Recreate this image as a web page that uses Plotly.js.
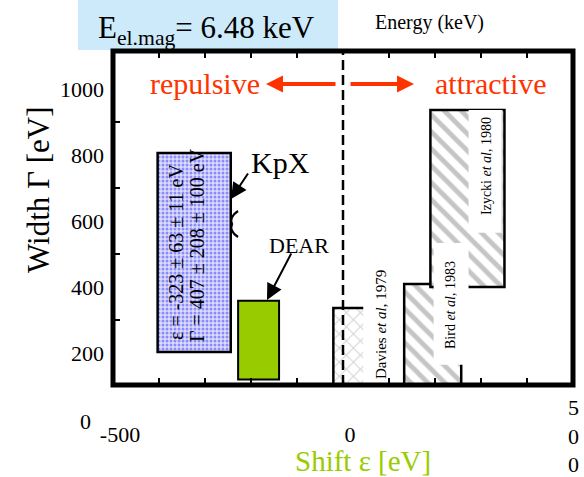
<!DOCTYPE html>
<html>
<head>
<meta charset="utf-8">
<script src="https://cdn.plot.ly/plotly-3.0.1.min.js"></script>
<style>
  html, body { margin: 0; padding: 0; background: #fff; }
  #chart { width: 584px; height: 477px; }
</style>
</head>
<body>
<div id="chart"></div>
<script>
// Allowed (shift, width) regions of the kaonic-hydrogen 1s level, in eV
const experiments = ['KpX', 'DEAR', 'Davies et al, 1979', 'Bird et al, 1983', 'Izycki et al, 1980'];
const shiftLow  = [-403, -228, -21, 133, 190];
const shiftHigh = [-244, -139,  60, 257, 351];
const widthLow  = [ 203,  120,   0,   0, 400];
const widthHigh = [ 806,  358, 336, 409, 936];

// Axis ticks and labels
const xLabelVals = [-500, 0];
const xLabelText = ['-500', '0'];
const xTickVals = [-400, -300, -200, -100, 100, 200, 300, 400];
const yLabelVals = [200, 400, 600, 800, 1000];
const yLabelText = ['200', '400', '600', '800', '1000'];
const yTickVals = [300, 500, 700, 900];

const SERIF = 'Liberation Serif, Times New Roman, serif';
const BLACK = '#000000';
const RED = '#ff3300';
const GREEN = '#99cc00';

// Fill style of each region
const fills = [
  { color: '#dcdcff', shape: '.',  fg: '#3c3cf0', size: 4,  solidity: 0.45, lw: 2.5 },
  { color: GREEN,     shape: '',   fg: GREEN,     size: 8,  solidity: 0.3,  lw: 2 },
  { color: '#ffffff', shape: 'x',  fg: '#a8a8a8', size: 10, solidity: 0.2,  lw: 2.5 },
  { color: '#ffffff', shape: '\\', fg: '#8c8c8c', size: 12, solidity: 0.4,  lw: 2.5 },
  { color: '#ffffff', shape: '\\', fg: '#8c8c8c', size: 12, solidity: 0.4,  lw: 2.5 }
];

// Figure geometry (fixed-size slide figure)
const W = 584, H = 477;
const M = { l: 113, r: 11, t: 51, b: 92 };
const PW = W - M.l - M.r, PH = H - M.t - M.b;
const px = p => (p - M.l) / PW;          // layout pixel -> paper x
const py = p => (H - M.b - p) / PH;      // layout pixel -> paper y
const TICK = 7;                          // inward tick length from the frame centre line, px

// One bar per experiment, spanning its shift range and width range
const traces = experiments.map((name, i) => ({
  type: 'bar',
  name: name,
  x: [(shiftLow[i] + shiftHigh[i]) / 2],
  width: [shiftHigh[i] - shiftLow[i]],
  base: [widthLow[i]],
  y: [widthHigh[i] - widthLow[i]],
  hoverinfo: 'name',
  marker: {
    color: fills[i].color,
    line: { color: BLACK, width: fills[i].lw },
    pattern: {
      shape: fills[i].shape,
      fgcolor: fills[i].fg,
      size: fills[i].size,
      solidity: fills[i].solidity,
      fillmode: 'overlay'
    }
  },
  showlegend: false
}));

const tickFont = { family: SERIF, size: 22, color: BLACK };

// Inward tick marks: bottom and top edges every 100 eV, left edge between the labels
const tickShapes = [];
xTickVals.forEach(v => {
  tickShapes.push({ type: 'path', xref: 'paper', yref: 'paper',
    path: `M ${(v + 500) / 1000},0 L ${(v + 500) / 1000},${TICK / PH}`,
    line: { color: BLACK, width: 2 }, layer: 'above' });
  tickShapes.push({ type: 'path', xref: 'paper', yref: 'paper',
    path: `M ${(v + 500) / 1000},1 L ${(v + 500) / 1000},${1 - TICK / PH}`,
    line: { color: BLACK, width: 2 }, layer: 'above' });
});
yTickVals.forEach(v => {
  tickShapes.push({ type: 'line', xref: 'paper', yref: 'y', x0: 0, x1: TICK / PW, y0: v, y1: v,
    line: { color: BLACK, width: 2 }, layer: 'above' });
});

const layout = {
  width: W, height: H,
  margin: M,
  paper_bgcolor: '#ffffff',
  plot_bgcolor: '#ffffff',
  barmode: 'overlay',
  bargap: 0,
  showlegend: false,
  font: { family: SERIF, color: BLACK },
  xaxis: {
    range: [-500, 500],
    tickmode: 'array', tickvals: xLabelVals, ticktext: xLabelText,
    ticks: '', showgrid: false, zeroline: false, showline: false,
    tickfont: tickFont,
    ticklabelstandoff: 34, ticklabelshift: 7
  },
  yaxis: {
    range: [103, 1115],
    tickmode: 'array', tickvals: yLabelVals, ticktext: yLabelText,
    ticks: '', showgrid: false, zeroline: false, showline: false,
    tickfont: tickFont,
    ticklabelstandoff: 8
  },
  shapes: [
    // light-blue banner behind the energy caption
    { type: 'rect', xref: 'paper', yref: 'paper', x0: px(78), x1: px(338), y0: py(50), y1: py(0),
      fillcolor: '#cdeafb', line: { width: 0 }, layer: 'above' },
    // white label panels over the hatched regions
    { type: 'rect', xref: 'x', yref: 'y', x0: 44, x1: 124, y0: 60, y1: 512,
      fillcolor: '#ffffff', line: { width: 0 }, layer: 'above' },
    { type: 'rect', xref: 'x', yref: 'y', x0: 197, x1: 273, y0: 164, y1: 533,
      fillcolor: '#ffffff', line: { width: 0 }, layer: 'above' },
    { type: 'rect', xref: 'x', yref: 'y', x0: 273, x1: 346, y0: 564, y1: 936,
      fillcolor: '#ffffff', line: { width: 0 }, layer: 'above' },
    { type: 'line', xref: 'x', yref: 'y', x0: 346, x1: 346, y0: 564, y1: 936,
      line: { color: '#c8c8c8', width: 1 }, layer: 'above' },
    // zero-shift divider
    { type: 'line', xref: 'x', yref: 'paper', x0: 0, x1: 0, y0: 0, y1: 1,
      line: { color: BLACK, width: 2.5, dash: '10px,5px' }, layer: 'above' },
    // small brace next to the KpX arrow
    { type: 'path', xref: 'paper', yref: 'paper',
      path: `M ${px(238)},${py(211)} Q ${px(229)},${py(217)} ${px(232)},${py(224)} Q ${px(229)},${py(231)} ${px(238)},${py(237)}`,
      line: { color: BLACK, width: 2.2 }, layer: 'above' },
    // heavy frame
    { type: 'rect', xref: 'paper', yref: 'paper', x0: 0, x1: 1, y0: 0, y1: 1,
      line: { color: BLACK, width: 5 }, layer: 'above' }
  ].concat(tickShapes),
  annotations: [
    // captions
    { xref: 'paper', yref: 'paper', x: px(96), y: py(30), xanchor: 'left', yanchor: 'middle',
      text: 'E<sub>el.mag</sub>= 6.48 keV', showarrow: false, font: { family: SERIF, size: 31, color: BLACK } },
    { xref: 'paper', yref: 'paper', x: px(429), y: py(22), xanchor: 'center', yanchor: 'middle',
      text: 'Energy (keV)', showarrow: false, font: { family: SERIF, size: 20, color: BLACK } },
    // axis titles
    { xref: 'paper', yref: 'paper', x: px(38), y: py(190), xanchor: 'center', yanchor: 'middle', textangle: -90,
      text: 'Width Γ [eV]', showarrow: false, font: { family: SERIF, size: 31, color: BLACK } },
    { xref: 'paper', yref: 'paper', x: px(363), y: py(461), xanchor: 'center', yanchor: 'middle',
      text: 'Shift ε [eV]', showarrow: false, font: { family: SERIF, size: 29, color: GREEN } },
    // stray axis labels
    { xref: 'paper', yref: 'paper', x: px(85), y: py(421), xanchor: 'center', yanchor: 'middle',
      text: '0', showarrow: false, font: tickFont },
    { xref: 'x', yref: 'paper', x: 500, y: py(436), xanchor: 'center', yanchor: 'middle',
      text: '5<br>0<br>0', showarrow: false, font: tickFont },
    // repulsive / attractive
    { xref: 'paper', yref: 'paper', x: px(205), y: py(84), xanchor: 'center', yanchor: 'middle',
      text: 'repulsive', showarrow: false, font: { family: SERIF, size: 30, color: RED } },
    { xref: 'paper', yref: 'paper', x: px(491), y: py(84), xanchor: 'center', yanchor: 'middle',
      text: 'attractive', showarrow: false, font: { family: SERIF, size: 30, color: RED } },
    { xref: 'paper', yref: 'paper', x: px(266), y: py(84), text: '', showarrow: true,
      ax: 71, ay: 0, arrowhead: 2, arrowsize: 0.85, arrowwidth: 4, arrowcolor: RED },
    { xref: 'paper', yref: 'paper', x: px(414), y: py(84), text: '', showarrow: true,
      ax: -65, ay: 0, arrowhead: 2, arrowsize: 0.85, arrowwidth: 4, arrowcolor: RED },
    // KpX call-out
    { xref: 'paper', yref: 'paper', x: px(280), y: py(162), xanchor: 'center', yanchor: 'middle',
      text: 'KpX', showarrow: false, font: { family: SERIF, size: 30, color: BLACK } },
    { xref: 'paper', yref: 'paper', x: px(231), y: py(199), text: '', showarrow: true,
      ax: 18, ay: -27, arrowhead: 2, arrowsize: 1.6, arrowwidth: 2, arrowcolor: BLACK },
    { xref: 'paper', yref: 'paper', x: px(176), y: py(252), xanchor: 'center', yanchor: 'middle', textangle: -90,
      text: 'ε = -323 ± 63 ± 11 eV', showarrow: false, font: { family: SERIF, size: 20, color: BLACK } },
    { xref: 'paper', yref: 'paper', x: px(197), y: py(245), xanchor: 'center', yanchor: 'middle', textangle: -90,
      text: 'Γ = 407 ± 208 ± 100 eV', showarrow: false, font: { family: SERIF, size: 20, color: BLACK } },
    // DEAR call-out
    { xref: 'paper', yref: 'paper', x: px(299), y: py(245), xanchor: 'center', yanchor: 'middle',
      text: 'DEAR', showarrow: false, font: { family: SERIF, size: 22, color: BLACK } },
    { xref: 'paper', yref: 'paper', x: px(267), y: py(300), text: '', showarrow: true,
      ax: 25, ay: -48, arrowhead: 2, arrowsize: 1.6, arrowwidth: 2, arrowcolor: BLACK },
    // older experiments
    { xref: 'paper', yref: 'paper', x: px(381), y: py(325), xanchor: 'center', yanchor: 'middle', textangle: -90,
      text: 'Davies <i>et al</i>, 1979', showarrow: false, font: { family: SERIF, size: 15, color: BLACK } },
    { xref: 'paper', yref: 'paper', x: px(450), y: py(305), xanchor: 'center', yanchor: 'middle', textangle: -90,
      text: 'Bird <i>et al</i>, 1983', showarrow: false, font: { family: SERIF, size: 14, color: BLACK } },
    { xref: 'paper', yref: 'paper', x: px(486), y: py(166), xanchor: 'center', yanchor: 'middle', textangle: -90,
      text: 'Izycki <i>et al</i>, 1980', showarrow: false, font: { family: SERIF, size: 14, color: BLACK } }
  ]
};

Plotly.newPlot('chart', traces, layout, { displayModeBar: false, staticPlot: true });
</script>
</body>
</html>
